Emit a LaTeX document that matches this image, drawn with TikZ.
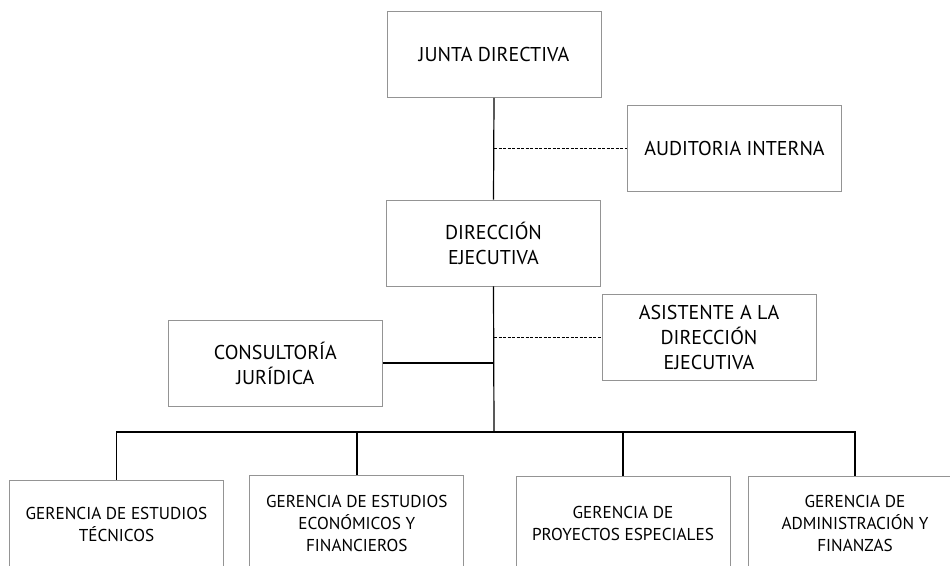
\documentclass[tikz,border=0pt]{standalone}
\usepackage{fontspec}
\setmainfont{PT Sans}
\begin{document}
\begin{tikzpicture}[x=1pt,y=-1pt,
  box/.style={draw=black!42, line width=0.9pt, align=center, inner sep=0pt,
    font=\fontsize{20}{25}\selectfont, minimum width=214pt, minimum height=86pt},
  gbox/.style={box, font=\fontsize{17.2}{22}\selectfont},
  link/.style={draw=black, line width=1.8pt},
  thin/.style={draw=black, line width=1.2pt},
  dotted link/.style={draw=black, line width=0.8pt, dash pattern=on 3pt off 1.5pt}]
\useasboundingbox (0,0) rectangle (950,565);
\clip (0,0) rectangle (950,565);
\node[box] (junta) at (494,54.5) {JUNTA DIRECTIVA};
\node[box] (audit) at (734.5,148.7) {AUDITORIA INTERNA};
\node[box] (dir) at (493.5,243) {DIRECCIÓN\\EJECUTIVA};
\node[box] (asis) at (709,337.2) {ASISTENTE A LA\\DIRECCIÓN\\EJECUTIVA};
\node[box] (cons) at (275.3,363.2) {CONSULTORÍA\\JURÍDICA};
\node[gbox, minimum height=88pt] (g1) at (116.5,524.3) {GERENCIA DE ESTUDIOS\\TÉCNICOS};
\node[gbox, minimum height=95pt] (g2) at (356.8,523.2) {GERENCIA DE ESTUDIOS\\ECONÓMICOS Y\\FINANCIEROS};
\node[gbox, minimum height=94pt] (g3) at (623,523) {GERENCIA DE\\PROYECTOS ESPECIALES};
\node[gbox, minimum height=94pt] (g4) at (855,523) {GERENCIA DE\\ADMINISTRACIÓN Y\\FINANZAS};
\coordinate (ta) at (494,148.3);
\coordinate (tb) at (494,337.3);
\coordinate (tc) at (494,362.7);
\coordinate (bus) at (494,432);
\draw[thin] (junta.south) -- (dir.north);
\draw[dotted link] (ta) -- (ta -| audit.west);
\draw[thin] (dir.south) -- (bus);
\draw[dotted link] (tb) -- (tb -| asis.west);
\draw[link] (cons.east |- tc) -- (tc);
\draw[link] (g1.north) -- (g1.north |- bus) -- (g4.north |- bus) -- (g4.north);
\draw[link] (g2.north |- bus) -- (g2.north);
\draw[link] (g3.north |- bus) -- (g3.north);
\end{tikzpicture}
\end{document}
